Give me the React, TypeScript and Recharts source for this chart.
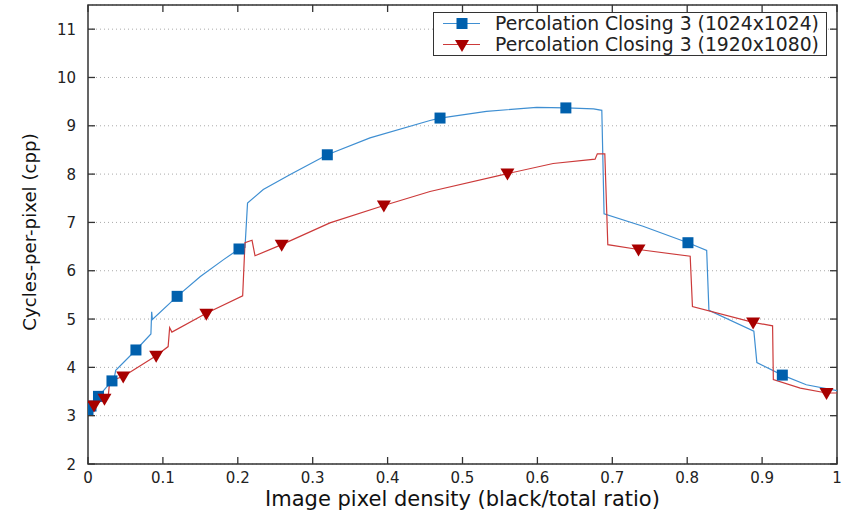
import React from 'react'
import {
  ComposedChart,
  Line,
  Scatter,
  XAxis,
  YAxis,
  CartesianGrid,
  ReferenceArea,
} from 'recharts'

// [density, cpp]
const blueLine: [number, number][] = [
  [0, 3.1], [0.004, 3.2], [0.014, 3.4], [0.032, 3.72], [0.035, 3.78], [0.037, 3.94],
  [0.064, 4.36], [0.084, 4.69], [0.085, 5.15], [0.086, 4.99], [0.119, 5.47],
  [0.15, 5.88], [0.181, 6.23], [0.2016, 6.45], [0.2096, 6.48], [0.213, 7.4],
  [0.234, 7.68], [0.27, 7.99], [0.3195, 8.4], [0.3765, 8.75], [0.4566, 9.11],
  [0.47, 9.16], [0.532, 9.3], [0.599, 9.38], [0.638, 9.37], [0.675, 9.35],
  [0.686, 9.32], [0.689, 7.18], [0.741, 6.92], [0.801, 6.58], [0.826, 6.42],
  [0.829, 5.18], [0.889, 4.75], [0.893, 4.1], [0.927, 3.84], [0.959, 3.64],
  [1.0, 3.52],
]

const redLine: [number, number][] = [
  [0, 3.09], [0.008, 3.21], [0.022, 3.35], [0.027, 3.4], [0.029, 3.72],
  [0.047, 3.81], [0.091, 4.24], [0.107, 4.43], [0.109, 4.82], [0.112, 4.73],
  [0.158, 5.12], [0.2065, 5.48], [0.2096, 6.58], [0.219, 6.63], [0.223, 6.31],
  [0.2586, 6.54], [0.323, 6.99], [0.395, 7.35], [0.4566, 7.64], [0.56, 8.01],
  [0.621, 8.22], [0.677, 8.31], [0.68, 8.42], [0.69, 8.42], [0.694, 6.54],
  [0.735, 6.44], [0.804, 6.3], [0.807, 5.26], [0.888, 4.93], [0.914, 4.86],
  [0.915, 3.75], [0.951, 3.57], [0.986, 3.47], [1.0, 3.47],
]

const blueMarks: [number, number][] = [
  [0, 3.12], [0.004, 3.2], [0.014, 3.4], [0.032, 3.72], [0.064, 4.36],
  [0.119, 5.47], [0.2016, 6.45], [0.3195, 8.4], [0.47, 9.16], [0.638, 9.37],
  [0.801, 6.58], [0.927, 3.84],
]

const redMarks: [number, number][] = [
  [0.008, 3.21], [0.022, 3.35], [0.047, 3.81], [0.091, 4.24], [0.158, 5.11],
  [0.2586, 6.54], [0.395, 7.35], [0.56, 8.01], [0.735, 6.44], [0.888, 4.93],
  [0.986, 3.47],
]

const seriesNames = ['Percolation Closing 3 (1024x1024)', 'Percolation Closing 3 (1920x1080)']
const xTicks = [0, 0.1, 0.2, 0.3, 0.4, 0.5, 0.6, 0.7, 0.8, 0.9, 1]
const yTicks = [2, 3, 4, 5, 6, 7, 8, 9, 10, 11]

const BLUE_LINE = '#3f8fd2'
const BLUE_MARK = '#0060ad'
const RED_LINE = '#cc3a3a'
const RED_MARK = '#a80000'
const AXIS = '#333'
const FONT = 'DejaVu Sans, sans-serif'
const TICK = 7
const PLOT_TOP = 5

const toPts = (arr: [number, number][]) => arr.map(([x, y]) => ({ x, y }))

const Square = (props: any) => {
  const { cx, cy } = props
  if (cx == null || cy == null) return null
  return <rect x={cx - 5.5} y={cy - 5.5} width={11} height={11} fill={BLUE_MARK} />
}

const Tri = (props: any) => {
  const { cx, cy } = props
  if (cx == null || cy == null) return null
  return <path d={`M${cx - 7},${cy - 5} L${cx + 7},${cy - 5} L${cx},${cy + 7} Z`} fill={RED_MARK} />
}

// inward ticks on all four sides, gnuplot style
const seg = (x1: number, y1: number, x2: number, y2: number) => (
  <path d={`M${x1},${y1} L${x2},${y2}`} stroke={AXIS} strokeWidth={1.3} fill="none" />
)
const BottomTick = (p: any) => (
  <g>
    {seg(p.x, p.y, p.x, p.y - TICK)}
    {seg(p.x, PLOT_TOP, p.x, PLOT_TOP + TICK)}
    <text x={p.x} y={p.y + 19} textAnchor="middle" fontSize={15} fill="#222" fontFamily={FONT}>
      {String(p.payload.value)}
    </text>
  </g>
)
const LeftTick = (p: any) => (
  <g>
    {seg(p.x, p.y, p.x + TICK, p.y)}
    <text x={p.x - 12} y={p.y + 5.5} textAnchor="end" fontSize={15} fill="#222" fontFamily={FONT}>
      {String(p.payload.value)}
    </text>
  </g>
)
const RightTick = (p: any) => <g>{seg(p.x, p.y, p.x - TICK, p.y)}</g>

function LegendBox() {
  const row = (i: number) => (
    <div style={{ display: 'flex', alignItems: 'center', height: 21 }}>
      <svg width={56} height={21}>
        <line x1={9} x2={46} y1={10.5} y2={10.5} stroke={i === 0 ? BLUE_LINE : RED_LINE} strokeWidth={1} />
        {i === 0 ? (
          <rect x={22.5} y={5} width={11} height={11} fill={BLUE_MARK} />
        ) : (
          <path d="M21,6 L35,6 L28,18 Z" fill={RED_MARK} />
        )}
      </svg>
      <span style={{ marginLeft: 5, fontSize: 18.8, color: '#222', whiteSpace: 'nowrap' }}>
        {seriesNames[i]}
      </span>
    </div>
  )
  return (
    <div
      style={{
        position: 'absolute',
        left: 433,
        top: 12,
        width: 392,
        height: 42,
        border: '1px solid #333',
        background: '#fff',
        fontFamily: FONT,
      }}
    >
      {row(0)}
      {row(1)}
    </div>
  )
}

export default function App() {
  return (
    <div style={{ position: 'absolute', left: 0, top: 0, width: 850, height: 512, background: '#fff' }}>
      <ComposedChart
        width={850}
        height={512}
        margin={{ top: PLOT_TOP, right: 0, bottom: 0, left: 0 }}
        style={{ fontFamily: FONT }}
      >
        <CartesianGrid xAxisId="b" yAxisId="l" vertical={false} stroke="#aaa" strokeDasharray="1 3" />
        <XAxis
          xAxisId="b"
          dataKey="x"
          type="number"
          domain={[0, 1]}
          ticks={xTicks}
          height={48}
          tickSize={0}
          tickMargin={0}
          tickLine={false}
          axisLine={false}
          tick={BottomTick}
          allowDataOverflow
          label={{
            content: (p: any) => (
              <text
                x={p.viewBox.x + p.viewBox.width / 2}
                y={506}
                textAnchor="middle"
                fontSize={21}
                fill="#111"
                fontFamily={FONT}
              >
                Image pixel density (black/total ratio)
              </text>
            ),
          }}
        />
        <YAxis
          yAxisId="l"
          dataKey="y"
          type="number"
          domain={[2, 11.5]}
          ticks={yTicks}
          width={88}
          tickSize={0}
          tickMargin={0}
          tickLine={false}
          axisLine={false}
          tick={LeftTick}
          allowDataOverflow
          label={{
            content: () => (
              <text
                x={31}
                y={232}
                textAnchor="middle"
                dominantBaseline="middle"
                fontSize={18.2}
                fill="#111"
                fontFamily={FONT}
                transform="rotate(-90 31 232)"
              >
                Cycles-per-pixel (cpp)
              </text>
            ),
          }}
        />
        <YAxis
          yAxisId="r"
          orientation="right"
          type="number"
          domain={[2, 11.5]}
          ticks={yTicks}
          width={13}
          tickSize={0}
          tickMargin={0}
          tickLine={false}
          axisLine={false}
          tick={RightTick}
          allowDataOverflow
        />
        <ReferenceArea
          xAxisId="b"
          yAxisId="l"
          x1={0}
          x2={1}
          y1={2}
          y2={11.5}
          fill="none"
          fillOpacity={0}
          stroke={AXIS}
          strokeWidth={1.5}
          strokeOpacity={1}
          ifOverflow="visible"
        />
        <Line
          xAxisId="b"
          yAxisId="l"
          data={toPts(blueLine)}
          dataKey="y"
          type="linear"
          stroke={BLUE_LINE}
          strokeWidth={1.2}
          dot={false}
          isAnimationActive={false}
        />
        <Line
          xAxisId="b"
          yAxisId="l"
          data={toPts(redLine)}
          dataKey="y"
          type="linear"
          stroke={RED_LINE}
          strokeWidth={1.2}
          dot={false}
          isAnimationActive={false}
        />
        <Scatter
          xAxisId="b"
          yAxisId="l"
          data={toPts(blueMarks)}
          dataKey="y"
          shape={Square}
          isAnimationActive={false}
        />
        <Scatter
          xAxisId="b"
          yAxisId="l"
          data={toPts(redMarks)}
          dataKey="y"
          shape={Tri}
          isAnimationActive={false}
        />
      </ComposedChart>
      <LegendBox />
    </div>
  )
}
